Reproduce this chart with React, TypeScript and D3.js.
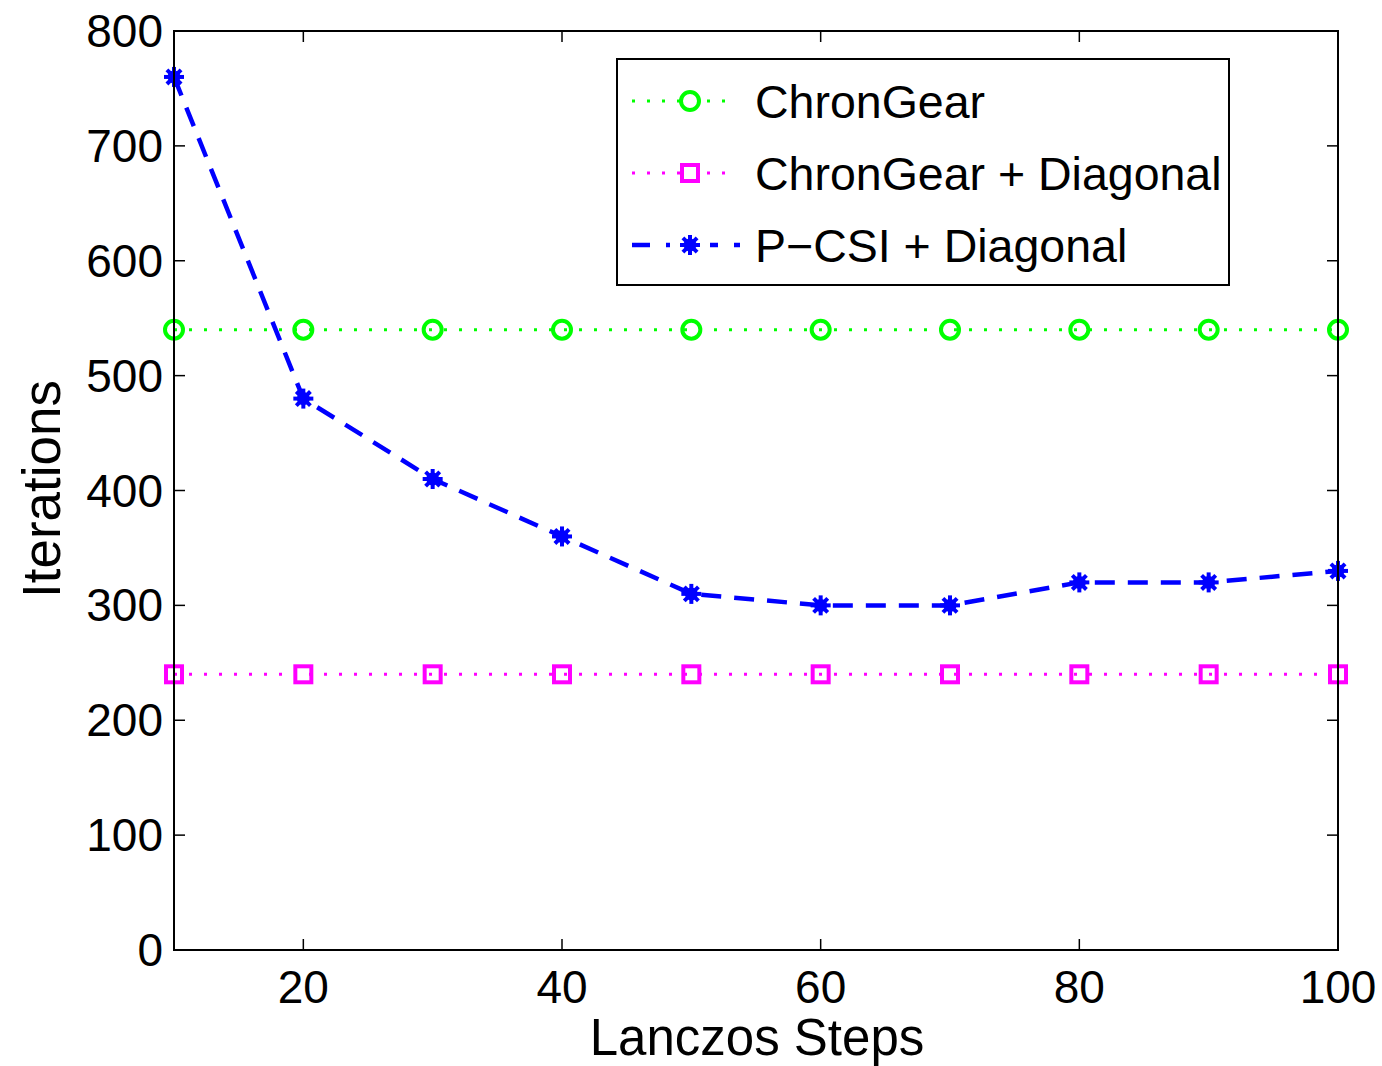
import React from "react";
import * as d3 from "d3";

const steps = [10, 20, 30, 40, 50, 60, 70, 80, 90, 100];
const chronGear = [540, 540, 540, 540, 540, 540, 540, 540, 540, 540];
const chronGearDiag = [240, 240, 240, 240, 240, 240, 240, 240, 240, 240];
const pcsiDiag = [760, 480, 410, 360, 310, 300, 300, 320, 320, 330];
const xTicks = [20, 40, 60, 80, 100];
const yTicks = [0, 100, 200, 300, 400, 500, 600, 700, 800];
const legendLabels = ["ChronGear", "ChronGear + Diagonal", "P\u2212CSI + Diagonal"];

const W = 1382, H = 1066;
const L = 174, R = 1338, T = 31, B = 950;
const FONT = "'Liberation Sans', Arial, Helvetica, sans-serif";

function Star({ x, y, s = 10, color }: { x: number; y: number; s?: number; color: string }) {
  const d = s * 0.7071;
  return (
    <g stroke={color} strokeWidth={4} strokeLinecap="butt">
      <line x1={x - s} y1={y} x2={x + s} y2={y} />
      <line x1={x} y1={y - s} x2={x} y2={y + s} />
      <line x1={x - d} y1={y - d} x2={x + d} y2={y + d} />
      <line x1={x - d} y1={y + d} x2={x + d} y2={y - d} />
      <circle cx={x} cy={y} r={6.5} fill={color} stroke="none" />
    </g>
  );
}

export default function App() {
  const x = d3.scaleLinear().domain([10, 100]).range([L, R]);
  const y = d3.scaleLinear().domain([0, 800]).range([B, T]);
  const line = d3
    .line<number>()
    .x((_, i) => x(steps[i]))
    .y((v) => y(v));

  const green = "#00ff00";
  const magenta = "#ff00ff";
  const blue = "#0000ff";

  const legX = 617, legY = 59, legW = 612, legH = 226;
  const rows = [101, 173, 245];

  return (
    <svg width={W} height={H} style={{ position: "absolute", left: 0, top: 0, background: "#fff" }} fontFamily={FONT}>
      <rect x={0} y={0} width={W} height={H} fill="#fff" />
      {/* series */}
      <path d={line(chronGear) || ""} fill="none" stroke={green} strokeWidth={3} strokeDasharray="3 12" />
      <path d={line(chronGearDiag) || ""} fill="none" stroke={magenta} strokeWidth={3} strokeDasharray="3 12" />
      <path d={line(pcsiDiag) || ""} fill="none" stroke={blue} strokeWidth={4.5} strokeDasharray="20 13" />
      {chronGear.map((v, i) => (
        <circle key={"g" + i} cx={x(steps[i])} cy={y(v)} r={9} fill="none" stroke={green} strokeWidth={4} />
      ))}
      {chronGearDiag.map((v, i) => (
        <rect key={"m" + i} x={x(steps[i]) - 8} y={y(v) - 8} width={16} height={16} fill="none" stroke={magenta} strokeWidth={4} />
      ))}
      {pcsiDiag.map((v, i) => (
        <Star key={"b" + i} x={x(steps[i])} y={y(v)} color={blue} />
      ))}

      {/* axes box */}
      <rect x={L} y={T} width={R - L} height={B - T} fill="none" stroke="#000" strokeWidth={2} />
      {xTicks.map((t) => (
        <g key={"xt" + t}>
          <line x1={x(t)} x2={x(t)} y1={B} y2={B - 11} stroke="#000" strokeWidth={1.5} />
          <line x1={x(t)} x2={x(t)} y1={T} y2={T + 11} stroke="#000" strokeWidth={1.5} />
          <text x={x(t)} y={1003} fontSize={46} textAnchor="middle" fill="#000">{t}</text>
        </g>
      ))}
      {yTicks.map((t) => (
        <g key={"yt" + t}>
          <line x1={L} x2={L + 11} y1={y(t)} y2={y(t)} stroke="#000" strokeWidth={1.5} />
          <line x1={R} x2={R - 11} y1={y(t)} y2={y(t)} stroke="#000" strokeWidth={1.5} />
          <text x={163} y={y(t) + 16} fontSize={46} textAnchor="end" fill="#000">{t}</text>
        </g>
      ))}
      <text x={757} y={1055} fontSize={51} textAnchor="middle" fill="#000">Lanczos Steps</text>
      <text transform={`translate(60,489) rotate(-90)`} fontSize={53} textAnchor="middle" fill="#000">Iterations</text>

      {/* legend */}
      <rect x={legX} y={legY} width={legW} height={legH} fill="#fff" stroke="#000" strokeWidth={2} />
      <line x1={632} x2={735} y1={rows[0]} y2={rows[0]} stroke={green} strokeWidth={3} strokeDasharray="3 12" />
      <circle cx={690} cy={rows[0]} r={9} fill="#fff" stroke={green} strokeWidth={4} />
      <line x1={632} x2={735} y1={rows[1]} y2={rows[1]} stroke={magenta} strokeWidth={3} strokeDasharray="3 12" />
      <rect x={682} y={rows[1] - 8} width={16} height={16} fill="#fff" stroke={magenta} strokeWidth={4} />
      <line x1={632} x2={740} y1={rows[2]} y2={rows[2]} stroke={blue} strokeWidth={4.5} strokeDasharray="18 16" />
      <rect x={670} y={rows[2] - 13} width={40} height={26} fill="#fff" />
      <Star x={690} y={rows[2]} color={blue} />
      {legendLabels.map((lab, i) => (
        <text key={lab} x={755} y={rows[i] + 17} fontSize={46.5} fill="#000">{lab}</text>
      ))}
    </svg>
  );
}
